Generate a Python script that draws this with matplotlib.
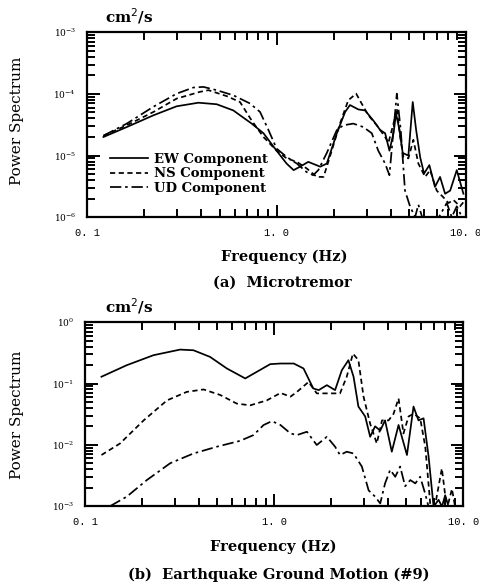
import numpy as np
import matplotlib
matplotlib.use("Agg")
import matplotlib.pyplot as plt
from matplotlib.ticker import LogLocator, FixedLocator, NullFormatter

# (a) Microtremor
freq_ew_a = [0.122, 0.162, 0.224, 0.297, 0.387, 0.483, 0.591, 0.739, 0.853, 1.00,
             1.13, 1.23, 1.33, 1.47, 1.70, 1.84, 2.08, 2.30, 2.44, 2.70, 2.93,
             3.24, 3.52, 3.74, 3.94, 4.14, 4.27, 4.45, 4.63, 4.96, 5.23, 5.45,
             5.72, 6.00, 6.40, 6.85, 7.29, 7.75, 8.24, 8.93, 9.68]
ew_a = [2.0e-5, 2.9e-5, 4.5e-5, 6.3e-5, 7.2e-5, 6.8e-5, 5.4e-5, 3.3e-5, 2.3e-5, 1.2e-5,
        7.4e-6, 5.8e-6, 6.6e-6, 7.9e-6, 6.6e-6, 7.4e-6, 2.3e-5, 5.1e-5, 6.6e-5, 5.6e-5, 5.4e-5,
        3.7e-5, 2.6e-5, 2.3e-5, 1.2e-5, 2.3e-5, 4.8e-5, 2.6e-5, 1.1e-5, 1.0e-5, 7.4e-5, 2.6e-5,
        9.5e-6, 5.1e-6, 7.0e-6, 3.1e-6, 4.5e-6, 2.4e-6, 2.7e-6, 5.8e-6, 2.4e-6]

freq_ns_a = [0.122, 0.162, 0.224, 0.297, 0.394, 0.437, 0.546, 0.641, 0.739, 0.853,
             1.00, 1.13, 1.28, 1.44, 1.63, 1.77, 1.91, 2.16, 2.39, 2.63, 2.81,
             3.05, 3.38, 3.74, 3.89, 4.14, 4.31, 4.49, 4.67, 4.96, 5.27, 5.60,
             6.08, 6.46, 7.00, 7.59, 8.07, 8.58, 9.29, 9.75]
ns_a = [2.1e-5, 3.1e-5, 5.1e-5, 8.4e-5, 1.08e-4, 1.15e-4, 9.2e-5, 7.4e-5, 3.7e-5, 2.0e-5,
        1.2e-5, 9.0e-6, 7.9e-6, 6.2e-6, 4.5e-6, 4.5e-6, 9.5e-6, 3.3e-5, 7.9e-5, 1.01e-4, 7.0e-5,
        4.5e-5, 3.1e-5, 2.0e-5, 1.6e-5, 3.3e-5, 5.8e-5, 2.0e-5, 9.5e-6, 9.0e-6, 1.8e-5, 7.4e-6,
        4.5e-6, 5.8e-6, 2.7e-6, 2.1e-6, 1.7e-6, 1.9e-6, 1.5e-6, 1.8e-6]

freq_ud_a = [0.122, 0.162, 0.224, 0.297, 0.364, 0.411, 0.483, 0.591, 0.724, 0.818,
             0.906, 1.00, 1.13, 1.28, 1.44, 1.56, 1.66, 1.84, 2.08, 2.25, 2.54,
             2.87, 3.18, 3.44, 3.74, 3.94, 4.14, 4.31, 4.52, 4.76, 5.06, 5.38,
             5.60, 5.96, 6.90, 7.91, 8.40, 8.93, 9.68]
ud_a = [2.1e-5, 3.3e-5, 6.2e-5, 1.01e-4, 1.27e-4, 1.30e-4, 1.15e-4, 9.5e-5, 7.0e-5, 5.1e-5,
        2.6e-5, 1.3e-5, 9.5e-6, 7.4e-6, 5.4e-6, 4.8e-6, 5.8e-6, 1.1e-5, 2.6e-5, 3.1e-5, 3.3e-5,
        2.9e-5, 2.3e-5, 1.2e-5, 7.4e-6, 4.8e-6, 2.6e-5, 1.01e-4, 2.6e-5, 2.7e-6, 1.5e-6, 1.0e-6,
        1.6e-6, 8.5e-7, 8.0e-7, 1.7e-6, 1.0e-6, 1.5e-6, 9.0e-7]

# (b) Earthquake ground motion (#9)
freq_ew_b = [0.122, 0.166, 0.230, 0.318, 0.374, 0.458, 0.562, 0.703, 0.809, 0.953,
             1.08, 1.27, 1.43, 1.61, 1.72, 1.90, 2.10, 2.28, 2.47, 2.63, 2.79,
             3.03, 3.22, 3.42, 3.64, 3.86, 4.19, 4.55, 5.04, 5.46, 5.80, 6.17,
             6.56, 6.97, 7.41, 7.72, 8.03, 8.36]
ew_b = [0.129, 0.199, 0.290, 0.358, 0.349, 0.272, 0.176, 0.121, 0.155, 0.207,
        0.212, 0.212, 0.176, 0.083, 0.078, 0.094, 0.078, 0.165, 0.240, 0.129, 0.042,
        0.029, 0.0135, 0.020, 0.017, 0.025, 0.0077, 0.021, 0.0068, 0.042, 0.025, 0.027,
        0.0064, 0.00098, 0.00126, 0.00098, 0.0015, 0.00098]

freq_ns_b = [0.122, 0.153, 0.204, 0.271, 0.345, 0.423, 0.518, 0.634, 0.746, 0.914,
             1.08, 1.22, 1.32, 1.52, 1.68, 1.90, 2.23, 2.42, 2.61, 2.79, 2.97,
             3.22, 3.49, 3.72, 4.03, 4.28, 4.55, 4.83, 5.14, 5.46, 5.92, 6.30,
             6.69, 7.00, 7.71, 8.20, 8.72, 9.10]
ns_b = [0.0068, 0.0105, 0.025, 0.053, 0.073, 0.080, 0.065, 0.047, 0.044, 0.053,
        0.070, 0.061, 0.073, 0.106, 0.069, 0.069, 0.069, 0.129, 0.308, 0.240, 0.061,
        0.022, 0.0105, 0.025, 0.025, 0.032, 0.057, 0.0153, 0.029, 0.032, 0.027, 0.0093,
        0.0011, 0.0008, 0.0041, 0.0009, 0.0019, 0.0009]

freq_ud_b = [0.136, 0.166, 0.212, 0.282, 0.374, 0.498, 0.661, 0.778, 0.879, 0.973,
             1.08, 1.22, 1.32, 1.49, 1.68, 1.90, 2.10, 2.23, 2.42, 2.63, 2.91,
             3.16, 3.42, 3.64, 3.86, 4.11, 4.37, 4.64, 4.93, 5.25, 5.58, 5.92,
             6.29, 6.60]
ud_b = [0.0010, 0.00142, 0.00265, 0.0050, 0.0072, 0.0093, 0.0116, 0.0144, 0.021, 0.0243,
        0.021, 0.0153, 0.0144, 0.0163, 0.0099, 0.0135, 0.0093, 0.0068, 0.0077, 0.0072, 0.0044,
        0.0018, 0.00142, 0.0011, 0.00234, 0.0039, 0.0030, 0.0044, 0.0021, 0.00265, 0.00234, 0.0030,
        0.0016, 0.0009]

x_ticks = [0.1, 1.0, 10.0]
x_tick_labels = ["0. 1", "1. 0", "10. 0"]

SERIF = "DejaVu Serif"
NS_DASH = (3.0, 2.0)
UD_DASH = (6.5, 2.2, 1.5, 2.2)
LW = 1.25


def style_axes(ax, ylo, yhi):
    ax.set_xscale("log")
    ax.set_yscale("log")
    ax.set_xlim(0.1, 10.0)
    ax.set_ylim(ylo, yhi)
    ax.xaxis.set_major_locator(FixedLocator(x_ticks))
    ax.set_xticklabels(x_tick_labels, family="Liberation Mono", fontsize=7.5)
    ax.xaxis.set_minor_locator(LogLocator(base=10, subs=np.arange(2, 10)))
    ax.xaxis.set_minor_formatter(NullFormatter())
    ax.yaxis.set_major_locator(LogLocator(base=10, numticks=10))
    ax.yaxis.set_minor_locator(LogLocator(base=10, subs=np.arange(2, 10), numticks=10))
    ax.yaxis.set_minor_formatter(NullFormatter())
    for lbl in ax.get_yticklabels():
        lbl.set_fontsize(6.5)
        lbl.set_family(SERIF)
    ax.tick_params(which="both", direction="in", top=True, right=True,
                   width=1.4, color="black")
    ax.tick_params(which="major", length=9, pad=8)
    ax.tick_params(which="minor", length=6)
    for sp in ax.spines.values():
        sp.set_linewidth(1.6)
    ax.set_axisbelow(False)


fig = plt.figure(figsize=(4.81, 5.87), dpi=100)
ax1 = fig.add_axes([0.181, 0.630, 0.788, 0.315])
ax2 = fig.add_axes([0.177, 0.138, 0.786, 0.313])

ax1.plot(freq_ew_a, ew_a, color="black", lw=LW, label="EW Component")
ax1.plot(freq_ns_a, ns_a, color="black", lw=LW, dashes=NS_DASH, label="NS Component")
ax1.plot(freq_ud_a, ud_a, color="black", lw=LW, dashes=UD_DASH, label="UD Component")
style_axes(ax1, 1e-6, 1e-3)
ax1.legend(loc="lower left", bbox_to_anchor=(0.035, 0.07), frameon=False,
           prop={"family": SERIF, "size": 9.5, "weight": "bold"}, handlelength=2.9,
           handletextpad=0.5, labelspacing=0.12, borderpad=0.2)

ax2.plot(freq_ew_b, ew_b, color="black", lw=LW)
ax2.plot(freq_ns_b, ns_b, color="black", lw=LW, dashes=NS_DASH)
ax2.plot(freq_ud_b, ud_b, color="black", lw=LW, dashes=UD_DASH)
style_axes(ax2, 1e-3, 1e0)

# labels placed in figure pixels, as in the scan
def put(x, y, s, **kw):
    fig.text(x / 481, 1 - y / 587, s, family=SERIF, ha="center", va="center", **kw)

put(17, 121, "Power Spectrum", fontsize=11, rotation=90)
put(17, 415, "Power Spectrum", fontsize=11, rotation=90)
put(284, 257, "Frequency (Hz)", fontsize=10.5, fontweight="bold")
put(273, 547, "Frequency (Hz)", fontsize=10.5, fontweight="bold")
put(129, 16, "cm$^2$/s", fontsize=11, fontweight="bold")
put(129, 306, "cm$^2$/s", fontsize=11, fontweight="bold")
put(282, 283, "(a)  Microtremor", fontsize=10.5, fontweight="bold")
put(279, 575, "(b)  Earthquake Ground Motion (#9)", fontsize=10.5, fontweight="bold")

fig.savefig("out.png", dpi=100, facecolor="white")
